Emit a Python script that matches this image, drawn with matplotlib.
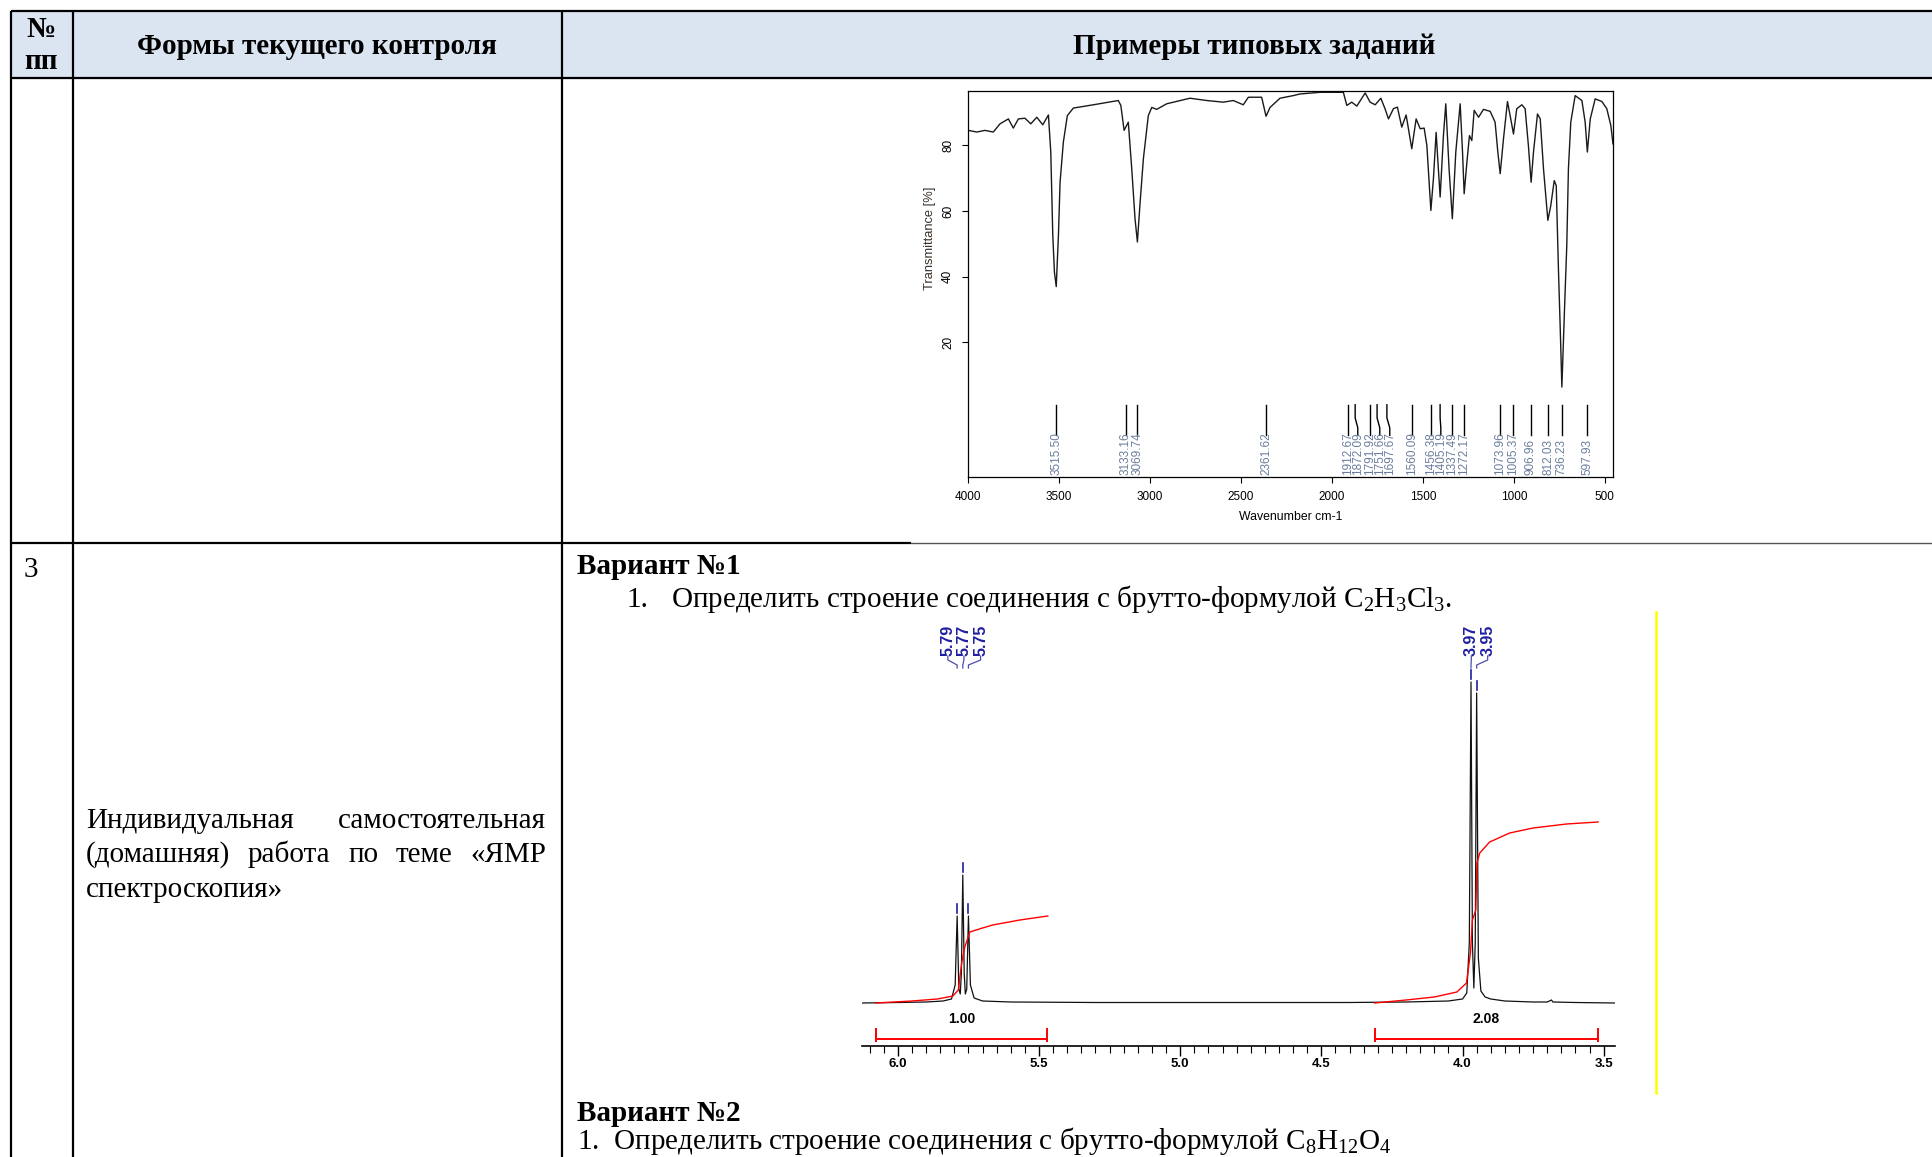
import matplotlib
matplotlib.use('Agg')
import matplotlib.pyplot as plt
from matplotlib.patches import Rectangle

plt.rcParams['mathtext.fontset'] = 'custom'
plt.rcParams['mathtext.rm'] = 'Liberation Serif'
plt.rcParams['mathtext.default'] = 'rm'

SERIF = 'Liberation Serif'
SANS = 'Liberation Sans'

# ---- IR spectrum ----
ir_wn = [3998, 3952, 3907, 3861, 3824, 3778, 3751, 3723, 3687, 3655, 3622, 3589, 3558,
         3545, 3534, 3525, 3515, 3503, 3494, 3476, 3454, 3421, 3311, 3174, 3160, 3142,
         3119, 3100, 3082, 3069, 3054, 3036, 3009, 2990, 2963, 2908, 2780, 2688, 2597,
         2542, 2487, 2459, 2386, 2362, 2340, 2285, 2212, 2175, 2065, 1937, 1918, 1891,
         1863, 1817, 1790, 1762, 1731, 1708, 1689, 1662, 1640, 1616, 1592, 1561, 1537,
         1515, 1493, 1478, 1456, 1442, 1427, 1416, 1405, 1387, 1374, 1356, 1338, 1319,
         1295, 1282, 1273, 1258, 1244, 1231, 1218, 1194, 1167, 1130, 1103, 1088, 1075,
         1057, 1035, 1017, 1002, 984, 956, 938, 920, 905, 892, 870, 855, 837, 813, 797,
         778, 767, 755, 745, 736, 722, 709, 700, 687, 663, 626, 608, 596, 580, 553, 516,
         489, 467, 455]
ir_tr = [84.6, 84.1, 84.6, 84.1, 86.6, 88.1, 85.3, 88.1, 88.3, 86.6, 88.6, 86.3, 89.3,
         78.0, 52.6, 41.4, 37.0, 52.6, 68.8, 81.0, 89.1, 91.4, 92.4, 93.7, 92.2, 84.6,
         87.1, 72.9, 57.7, 50.6, 62.7, 76.0, 89.1, 91.6, 91.0, 92.7, 94.4, 93.7, 93.2,
         93.7, 92.4, 94.7, 94.7, 88.9, 91.6, 94.4, 95.2, 95.7, 96.2, 96.2, 92.2, 93.2,
         92.0, 96.0, 93.2, 92.4, 94.4, 91.2, 88.1, 91.2, 91.7, 85.6, 89.3, 79.0, 88.1,
         85.1, 85.3, 80.0, 60.2, 69.9, 84.0, 73.9, 64.3, 83.0, 92.7, 72.9, 57.7, 78.0,
         92.7, 78.0, 65.3, 74.9, 83.0, 81.5, 90.7, 88.6, 91.0, 90.4, 87.1, 78.0, 71.4,
         82.0, 93.4, 88.1, 83.5, 91.2, 92.4, 91.2, 80.0, 68.8, 78.0, 89.6, 88.1, 72.9,
         57.2, 61.7, 69.3, 67.8, 42.5, 24.2, 6.4, 29.3, 49.6, 72.9, 87.1, 95.2, 93.7,
         87.1, 78.0, 88.1, 94.2, 93.4, 91.2, 86.1, 80.5]
ir_peaks = [3515.50, 3133.16, 3069.74, 2361.62, 1912.67, 1872.09, 1791.92, 1751.66,
            1697.67, 1560.09, 1456.38, 1405.19, 1337.49, 1272.17, 1073.96, 1005.37,
            906.96, 812.03, 736.23, 597.93]

# ---- 1H NMR spectrum ----
nmr_ppm = [6.127, 6.0, 5.9, 5.84, 5.81, 5.797, 5.79, 5.784, 5.779, 5.775, 5.77, 5.765,
           5.761, 5.756, 5.75, 5.743, 5.73, 5.70, 5.6, 5.3, 5.0, 4.7, 4.4, 4.2, 4.05,
           4.0, 3.985, 3.976, 3.97, 3.965, 3.96, 3.955, 3.95, 3.944, 3.935, 3.92, 3.90,
           3.85, 3.75, 3.70, 3.685, 3.68, 3.6, 3.46]
nmr_int = [0, 0.5, 1, 2, 4, 18, 87, 14, 9, 30, 128, 30, 9, 14, 87, 18, 5, 2, 1, 0.5,
           0.5, 0.5, 0.5, 1, 2, 4, 10, 60, 321, 60, 15, 60, 310, 45, 12, 6, 4, 2, 1, 1,
           3, 1, 0.5, 0]
int1_ppm = [6.078, 5.95, 5.86, 5.805, 5.786, 5.774, 5.763, 5.745, 5.70, 5.664, 5.568, 5.469]
int1_val = [0, 2, 4, 7, 13, 40, 56, 71, 75, 78, 83, 87]
int2_ppm = [4.311, 4.2, 4.1, 4.02, 3.986, 3.972, 3.965, 3.953, 3.949, 3.939, 3.904,
            3.833, 3.75, 3.632, 3.52]
int2_val = [0, 3, 6, 11, 20, 50, 83, 93, 140, 150, 161, 170, 175, 179, 181]
nmr_peaks = [5.79, 5.77, 5.75, 3.97, 3.95]
nmr_peak_tops = [87, 128, 87, 321, 310]
nmr_label_pos = [5.823, 5.766, 5.707, 3.969, 3.911]
int_ranges = [(6.078, 5.472), (4.311, 3.52)]
int_labels = ['1.00', '2.08']

header_cols = ['Формы текущего контроля', 'Примеры типовых заданий']

W, H = 1932, 1157
fig = plt.figure(figsize=(W / 100, H / 100), dpi=100)
bg = fig.add_axes([0, 0, 1, 1])
bg.set_xlim(0, W)
bg.set_ylim(H, 0)
bg.axis('off')

# table frame
bg.add_patch(Rectangle((11, 11), W - 11, 67, color='#dbe5f1', zorder=0))
lk = dict(color='black', lw=1.6, solid_capstyle='butt')
bg.plot([11, W], [11, 11], **lk)
bg.plot([11, W], [78, 78], **lk)
bg.plot([11, 911], [543, 543], **lk)
bg.plot([911, W], [543, 543], color='#555555', lw=1.0)
for x in (11, 73, 562):
    bg.plot([x, x], [11, H], **lk)
bg.plot([1656, 1656], [612, 1093], color='#ffff00', lw=1.8)

tk = dict(family=SERIF, fontsize=21, va='baseline')
bk = dict(tk, fontweight='bold')
bg.text(41, 37, '№', ha='center', **bk)
bg.text(41, 69, 'пп', ha='center', **bk)
bg.text(317, 54, header_cols[0], ha='center', **bk)
bg.text(1254, 54, header_cols[1], ha='center', **bk)
bg.text(24, 577, '3', ha='left', **tk)


def justify(words, x0, x1, y):
    ts = [bg.text(x0, y, w, ha='left', **tk) for w in words]
    r = fig.canvas.get_renderer()
    ws = [t.get_window_extent(r).width for t in ts]
    gap = (x1 - x0 - sum(ws)) / (len(words) - 1)
    x = x0
    for t, w in zip(ts, ws):
        t.set_x(x)
        x += w + gap


justify(['Индивидуальная', 'самостоятельная'], 86, 546, 828)
justify(['(домашняя)', 'работа', 'по', 'теме', '«ЯМР'], 86, 546, 862)
bg.text(86, 897, 'спектроскопия»', ha='left', **tk)

bg.text(577, 574, 'Вариант №1', ha='left', **bk)
bg.text(626, 607, '1.', ha='left', **tk)
bg.text(671, 607, 'Определить строение соединения с брутто-формулой C$_2$H$_3$Cl$_3$.',
        ha='left', **tk)
bg.text(577, 1121, 'Вариант №2', ha='left', **bk)
bg.text(577, 1149, '1.  Определить строение соединения с брутто-формулой C$_8$H$_{12}$O$_4$',
        ha='left', **tk)

# ---- IR panel ----
ir = fig.add_axes([968 / W, 1 - 477 / H, 645 / W, 386 / H])
ir.plot(ir_wn, ir_tr, color='#1a1a1a', lw=1.0)
ir.set_xlim(4000, 455)
ir.set_ylim(-21, 96.6)
ir.set_xticks(range(4000, 499, -500))
ir.set_yticks([20, 40, 60, 80])
ir.tick_params(labelsize=8.5, length=4, width=0.8, pad=6)
for lab in ir.get_xticklabels() + ir.get_yticklabels():
    lab.set_family(SANS)
for lab in ir.get_yticklabels():
    lab.set_rotation(90)
    lab.set_va('center')
for s in ir.spines.values():
    s.set_linewidth(0.9)
ir.set_xlabel('Wavenumber cm-1', fontsize=8.8, family=SANS)
ir.xaxis.set_label_coords(0.5, -0.088)
ir.set_ylabel('Transmittance [%]', fontsize=9.3, family=SANS, color='#3a3028')
ir.yaxis.set_label_coords(-0.050, 0.619)

label_pos = []
for w in ir_peaks:
    p = w
    if label_pos and label_pos[-1] - p < 55:
        p = label_pos[-1] - 55
    label_pos.append(p)
for w, p in zip(ir_peaks, label_pos):
    ir.plot([w, w, p, p], [1, -3, -6, -8.3], color='black', lw=1.0)
    ir.text(p, -20.3, '%.2f' % w, rotation=90, ha='center', va='bottom',
            fontsize=8.5, family=SANS, color='#6b7d9c')

# ---- NMR panel ----
nmr = fig.add_axes([862 / W, 111 / H, 753 / W, 434 / H])
nmr.patch.set_alpha(0)
nmr.plot(nmr_ppm, nmr_int, color='#111111', lw=0.9)
nmr.plot(int1_ppm, int1_val, color='red', lw=1.0)
nmr.plot(int2_ppm, int2_val, color='red', lw=1.0)
nmr.set_xlim(6.127, 3.46)
nmr.set_ylim(-43, 391)
for k in ('left', 'right', 'top'):
    nmr.spines[k].set_visible(False)
nmr.spines['bottom'].set_linewidth(1.2)
nmr.set_yticks([])
nmr.set_xticks([6.0, 5.5, 5.0, 4.5, 4.0, 3.5])
nmr.set_xticklabels(['6.0', '5.5', '5.0', '4.5', '4.0', '3.5'])
nmr.set_xticks([6.1 - 0.05 * i for i in range(53)], minor=True)
nmr.tick_params(axis='x', which='major', length=7, width=1.0, labelsize=9.5, pad=1.5)
nmr.tick_params(axis='x', which='minor', length=5, width=0.8)
for lab in nmr.get_xticklabels():
    lab.set_family(SANS)
    lab.set_fontweight('bold')

for (a, b), lbl in zip(int_ranges, int_labels):
    nmr.plot([a, a, a, b, b, b], [-25.6, -38.2, -35.6, -35.6, -38.2, -25.6],
             color='red', lw=1.4)
    nmr.text((a + b) / 2, -16, lbl, ha='center', va='center', fontsize=10,
             fontweight='bold', family=SANS)

for pk, top, lp in zip(nmr_peaks, nmr_peak_tops, nmr_label_pos):
    nmr.text(lp, 347, '%.2f' % pk, rotation=90, ha='center', va='bottom',
             fontsize=11.5, fontweight='bold', family=SANS, color='#1f1fa0')
    nmr.plot([lp, lp, pk, pk], [347, 343, 338, 335], color='#4b4bb0', lw=0.9)
    nmr.plot([pk, pk], [top + 3, top + 12], color='#1f1fa0', lw=1.2)

fig.savefig('out.png', dpi=100)
